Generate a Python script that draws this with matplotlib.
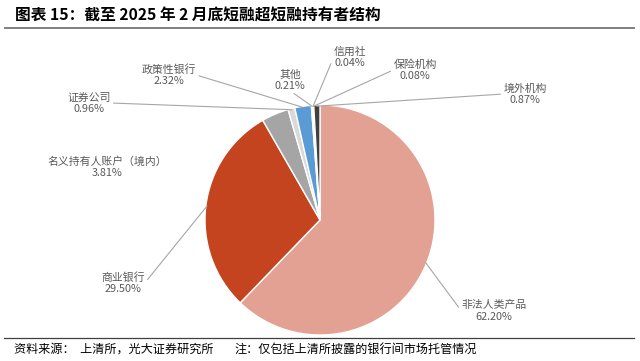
import numpy as np
import matplotlib
matplotlib.use("Agg")
import matplotlib.pyplot as plt

plt.rcParams['font.family'] = ['Noto Sans CJK SC', 'DejaVu Sans']

# ----------------------------
# Data
# ----------------------------
holders = ["非法人类产品", "商业银行", "名义持有人账户（境内）", "证券公司",
           "政策性银行", "其他", "信用社", "保险机构", "境外机构"]
shares = [62.20, 29.50, 3.81, 0.96, 2.32, 0.21, 0.04, 0.08, 0.87]
colors = ["#E2A192", "#C4441F", "#A5A5A5", "#D9D9D9", "#5B9BD5",
          "#EDEDED", "#F4F4F4", "#E0E0E0", "#404040"]

title = "图表 15：截至 2025 年 2 月底短融超短融持有者结构"
source = "资料来源：  上清所，光大证券研究所"
note = "注：仅包括上清所披露的银行间市场托管情况"

# label anchor (figure pixels, from bottom-left), relpos of leader, draw leader?
label_pos = {
    "非法人类产品": ((494, 50), (0, 0.5), True),
    "商业银行": ((123, 78), (1, 0.5), True),
    "名义持有人账户（境内）": ((107, 194), (1, 0.5), False),
    "证券公司": ((89, 258), (1, 0.5), True),
    "政策性银行": ((169, 286), (1, 0.5), True),
    "其他": ((290, 281), (0.5, 0), True),
    "信用社": ((350, 304), (0, 0.5), True),
    "保险机构": ((415, 291), (0, 0.5), True),
    "境外机构": ((525, 267), (0, 0.5), True),
}

W, H = 640, 361
fig = plt.figure(figsize=(W / 100, H / 100), dpi=100)

# pie axes: centre ~ (320, 141) px, radius ~ 115 px
r = 115
ax = fig.add_axes([(320 - r) / W, (141 - r) / H, 2 * r / W, 2 * r / H])
wedges, _ = ax.pie(shares, colors=colors, startangle=90, counterclock=False,
                   radius=1, wedgeprops=dict(edgecolor="white", linewidth=1.0))
ax.set_xlim(-1, 1)
ax.set_ylim(-1, 1)
ax.axis("off")

for w, name, val in zip(wedges, holders, shares):
    (px, py), rel, line = label_pos[name]
    ang = np.deg2rad((w.theta1 + w.theta2) / 2)
    xy = (np.cos(ang) * 0.99, np.sin(ang) * 0.99)
    arrow = dict(arrowstyle="-", color="#A6A6A6", lw=0.8, shrinkA=0, shrinkB=0,
                 relpos=rel) if line else None
    ax.annotate(f"{name}\n{val:.2f}%", xy=xy, xycoords="data",
                xytext=(px, py), textcoords="figure pixels",
                ha="center", va="center", fontsize=7.8, color="#595959",
                linespacing=1.15, arrowprops=arrow, annotation_clip=False)

# title and rules
fig.text(15 / W, 1 - 16 / H, title, fontsize=11.3, fontweight="bold",
         ha="left", va="center", color="#000000")
fig.add_artist(plt.Line2D([5 / W, 634 / W], [1 - 28 / H, 1 - 28 / H],
                          color="#7F7F7F", lw=1.4))
fig.add_artist(plt.Line2D([4 / W, 634 / W], [1 - 338 / H, 1 - 338 / H],
                          color="#404040", lw=0.9))
fig.text(14 / W, 1 - 349 / H, source, fontsize=8.7, ha="left", va="center")
fig.text(234 / W, 1 - 349 / H, note, fontsize=8.7, ha="left", va="center")

fig.savefig("out.png", dpi=100)
